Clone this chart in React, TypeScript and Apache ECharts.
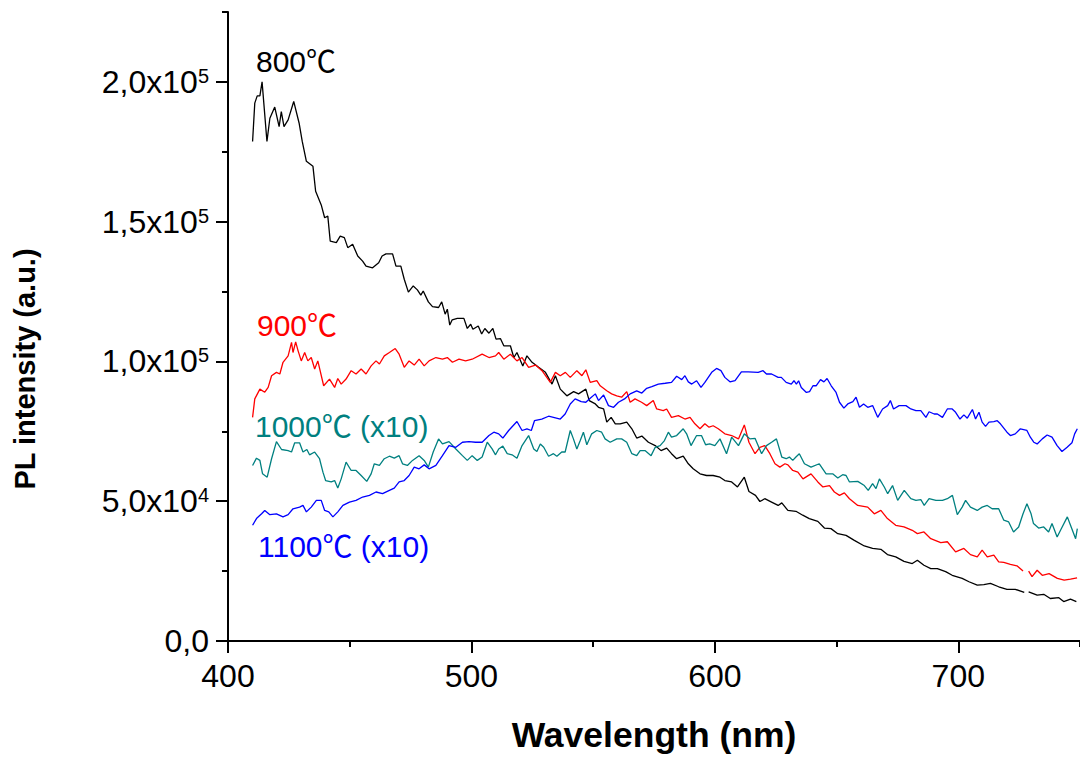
import React, { useEffect, useRef } from 'react';
import * as echarts from 'echarts';

// wavelength (nm), PL intensity (x10^3 a.u.); null = gap in the recorded trace
const s800: (number | null)[][] = [
  [410.1, 178.7], [411, 192.4], [412, 195], [413.1, 195], [414, 200], [416, 178.7], [417.2, 187], [419.2, 191], [421, 184], [421.9, 189.4],
  [423, 184], [424.7, 186.4], [427, 193], [429.2, 185.3], [430.5, 178.7], [432.2, 171.6], [434.9, 169.8], [436, 160.9], [438.3, 156], [439.7, 151.4],
  [441, 152], [442, 143], [444.5, 142.5], [446.1, 144.8], [447.8, 144.3], [449.2, 140.7], [451.2, 141.9], [453.3, 137.7], [455.3, 135.9], [456.7, 134.1],
  [459.4, 133.5], [461.9, 135.3], [463.3, 137.7], [464.9, 138.5], [467.6, 138.5], [469, 134.1], [471, 134.1], [472.4, 129.4], [474.1, 124.8], [476.1, 127],
  [477.8, 125.6], [479.2, 123.7], [480.2, 125.2], [482.3, 121.3], [484, 119.6], [486.5, 119.3], [487.8, 121.3], [489.2, 116.9], [490.1, 118.7], [491.1, 113],
  [492.1, 114.9], [494.2, 115.4], [496.9, 115.4], [498.3, 111.8], [499.7, 113.3], [500.6, 111.5], [502.8, 112.7], [504.2, 109.8], [505.5, 111.8], [507.2, 110.1],
  [508.8, 111.8], [510.1, 108], [511.9, 108.2], [513.3, 105.6], [516, 105.6], [517.4, 101.4], [518.7, 103.2], [521.1, 98.4], [522.8, 102], [524.9, 99.7],
  [527.6, 97.9], [530.4, 96.1], [533.1, 91.9], [534.5, 94.9], [536.5, 90.1], [539.2, 87.7], [542, 89.2], [544, 88.4], [547, 90.1], [548.4, 86],
  [550.9, 84.8], [552.2, 83.6], [554.3, 83], [555.6, 78.3], [557.4, 80], [559.1, 77.7], [561.1, 77.7], [563.8, 78.3], [565.9, 75.9], [567.9, 72.6],
  [570, 73.3], [572.7, 71.1], [575.5, 69.9], [577.9, 68.1], [580.2, 69], [582.2, 67], [584.3, 65.2], [587, 66.1], [589.1, 63.4], [591.1, 61.6],
  [593.9, 59.8], [596.6, 59.2], [599.3, 59.2], [602.1, 58.6], [604.1, 57.4], [606.9, 56.9], [609.3, 55.1], [612.1, 58.6], [614, 53.5], [616.7, 52.1],
  [618.5, 49.9], [620.5, 50.9], [623.3, 49.7], [626, 48.5], [627.5, 49.4], [630, 46.7], [633.3, 46.4], [636.1, 45], [638.8, 43.8], [642.3, 42.8],
  [645, 40.4], [647.7, 40.2], [650.5, 38.4], [653.9, 37.8], [657.3, 36], [661.4, 34], [664.8, 33.1], [668.2, 32.8], [670.9, 30.9], [674.3, 30.1],
  [677.7, 28.5], [681.1, 27.7], [683.2, 28.9], [685.9, 27.1], [688.7, 25.9], [691.4, 25.9], [694.8, 24.8], [697.5, 23.5], [701.6, 22.4], [704.4, 21.2],
  [707.8, 20], [710.5, 20.2], [713.2, 20.6], [716.6, 19.4], [720, 18.5], [723.4, 18.5], [727.1, 17.4], [728, null], [728.9, 17.6], [732.4, 16.4],
  [735.1, 16.7], [737.8, 15.2], [741.3, 15.5], [743.3, 14.1], [746.1, 15], [748.5, 14.1],
];

const s900: (number | null)[][] = [
  [410.1, 80], [411, 86.6], [413.1, 90.1], [415.1, 89], [416.5, 90.7], [417.9, 94.9], [419.9, 96.1], [421.3, 95.5], [422.6, 99.7], [424.7, 102],
  [426.1, 106.8], [426.7, 103.2], [427.8, 107], [428.8, 103.8], [430.1, 100.2], [431.5, 103.2], [432.8, 100.2], [434.2, 101.4], [435.6, 97.3], [436.9, 100.2],
  [439.3, 91.3], [441.7, 93.7], [443.8, 90.7], [445.1, 93.9], [446.5, 91.9], [448.5, 93.7], [450.6, 96.7], [452.6, 95.5], [454.7, 97.3], [456.7, 95.5],
  [458.8, 98.4], [460.8, 100.2], [462.2, 99.1], [464.2, 102], [466.3, 103.2], [468.7, 104.6], [470.3, 102.6], [472.4, 97.9], [474.4, 100.2], [476.5, 98.7],
  [478.5, 100.8], [480.6, 98.4], [482.6, 100.2], [485.4, 101.4], [488.1, 100.8], [490.1, 101.4], [492.2, 99.7], [494.9, 100.8], [497.6, 100.2], [500.3, 100.8],
  [504.4, 102.6], [507.2, 101.4], [509.9, 102], [511.2, 103.2], [513.3, 100.8], [516, 102.6], [518.7, 100.2], [520.8, 101.4], [523.5, 97.9], [526.3, 98.7],
  [529, 96.7], [532.4, 92.5], [534.5, 96.1], [536.5, 94.9], [538.6, 96.1], [540.6, 94.3], [543.3, 96.7], [545.4, 94.9], [547, 97], [548.8, 92.5],
  [551.5, 93.1], [552.9, 91.3], [555.6, 89.5], [557.6, 88.4], [559.7, 87.7], [561.7, 87.2], [563.8, 89.2], [565.2, 85.4], [567.2, 86.6], [569.9, 85.4],
  [572, 84.2], [574.7, 86], [576.1, 83], [578.8, 82.4], [580.2, 83], [582.2, 80], [585, 80.6], [587.7, 79.4], [589.8, 80], [591.8, 77.7],
  [593.9, 75.9], [595.9, 77.7], [597.6, 76.5], [599.3, 77], [601.4, 75.9], [604.1, 74.1], [606.9, 73.5], [609.7, 72.3], [612.1, 77.3], [614, 71.1],
  [616.5, 67], [618.5, 69.3], [620.5, 69.9], [622.6, 67], [624.7, 63.4], [626.7, 62.2], [628.8, 63.4], [630, 63], [632, 61], [634.1, 60.4],
  [636.2, 58], [639.5, 59.8], [642.3, 56.9], [644.4, 55.1], [647.1, 55.6], [649.1, 53.3], [651.2, 52.1], [653.2, 53], [655.3, 50.9], [658.7, 48.5],
  [662.8, 47.9], [665.5, 45.5], [668.2, 46.7], [670.9, 43.8], [674.3, 41.4], [677.7, 40.8], [681.1, 39.6], [683.2, 38.4], [685.9, 39], [688.7, 36.6],
  [692.8, 35.2], [695.5, 35.5], [698.9, 31.9], [702.3, 33.1], [705, 30.9], [707.8, 30.1], [709.8, 32.5], [711.9, 30.1], [714.6, 30.7], [716.6, 28.3],
  [718.7, 28.1], [721.4, 27.4], [724.1, 26.9], [726.6, 25], [727.8, null], [728.9, 25], [730.3, 23], [732.4, 25.3], [734.5, 23.5], [737.3, 24.1],
  [740.7, 22.4], [743.5, 21.8], [746.1, 22.1], [748.8, 22.6],
];

const s1000: (number | null)[][] = [
  [410.1, 62.8], [411.7, 65.4], [413.1, 64.6], [414.2, 59.8], [416.1, 58.6], [417.9, 65.2], [419.9, 71.3], [422, 68.5], [424.7, 68.1], [426.1, 67.6],
  [427.4, 70.9], [429.4, 70.9], [430.8, 67.6], [432.4, 68.5], [433.5, 66.6], [435.6, 67.6], [437.6, 65.2], [439, 60.4], [440.1, 57.4], [442.4, 56.9],
  [443.8, 57.4], [445.1, 54.7], [446.5, 58], [448.5, 64], [450.6, 61], [452.6, 61], [454.7, 59.2], [457, 57.1], [458.8, 59.8], [460.1, 63.4],
  [462.2, 62.8], [464.2, 65.2], [466.3, 66.1], [468.3, 65.4], [470.3, 66.3], [471.7, 63.4], [473.7, 62.8], [475.8, 64.6], [478.5, 66.3], [480.6, 64.6],
  [482.3, 62.2], [484.3, 67.6], [486.5, 72.3], [488.1, 70.5], [490.8, 71.3], [493.6, 68.7], [496.3, 66.3], [498.3, 64.6], [500.3, 66.3], [502.4, 64.6],
  [504.4, 65.8], [506.5, 71.1], [508.5, 68.7], [509.9, 66.6], [511.2, 68.7], [512.9, 69.7], [514.7, 67], [516.7, 66.6], [518.7, 65.4], [520.8, 69.9],
  [523.5, 73.5], [525.6, 68.7], [526.9, 67.8], [528.3, 70.5], [529.7, 69.3], [531.7, 66.1], [533.7, 67], [535.1, 66.1], [537.1, 67.6], [538.5, 67.6],
  [540.6, 75.3], [541.9, 72.3], [543.3, 68.7], [544.7, 71.7], [546, 74.7], [547.4, 70.2], [549.4, 74.1], [551.5, 75.3], [553.5, 74.7], [554.9, 72.3],
  [557, 71.1], [559.7, 72.3], [561.7, 72.3], [563.8, 71.1], [565.9, 67], [567.9, 66.3], [569.3, 68.1], [571.3, 68.1], [573.8, 66.3], [575.5, 69.3],
  [577.5, 69.9], [579.3, 71.7], [580.9, 74.7], [582.2, 72.9], [584.3, 73.5], [587, 75.9], [588.4, 74.1], [590.2, 69.9], [592.5, 73.5], [594.5, 73.5],
  [596.2, 70.2], [597.9, 70.5], [600, 69.9], [602.1, 72.3], [604.8, 67], [606.9, 72.9], [609.7, 69.9], [612.1, 74.1], [614.4, 72.3], [616.5, 72.5],
  [619.2, 67], [621.2, 69.9], [623.3, 71.1], [625.3, 72.3], [627.5, 65.8], [629.3, 65.2], [630.6, 65.8], [632, 64.6], [633.3, 65.8], [634.7, 67],
  [636.8, 63.4], [639.5, 62.2], [642.9, 63.4], [645.7, 59.8], [648.4, 59.8], [650.5, 58.3], [652.5, 59.5], [653.9, 59.2], [655.3, 56.9], [658.7, 57.1],
  [661.4, 55.6], [663, 53.9], [664.8, 56.3], [666.2, 54.5], [667.6, 58], [669.6, 55.1], [671, 52.7], [673, 55.6], [675.1, 50.3], [677.8, 53.9],
  [680.5, 50.9], [682.6, 50.3], [684.6, 50.6], [686, 48.5], [688, 50.9], [690.8, 50.3], [693.5, 50.3], [695.5, 50.9], [697.6, 52.1], [699.6, 45.2],
  [701.6, 47.9], [703, 50.3], [705, 47.9], [707.8, 46.7], [709.8, 47.9], [711.9, 48.5], [713.9, 47.3], [716.6, 47.3], [718.7, 43.2], [720.7, 42.6],
  [722.7, 39], [724.8, 40.8], [726.6, 45.5], [728.2, 49.1], [729.9, 45.5], [730.9, 42], [733, 40.4], [735.1, 40.8], [737.1, 39], [738.5, 42],
  [740.6, 37.2], [742, 39.6], [744.8, 44.4], [746.1, 41.4], [748.2, 36.6], [748.9, 40.2],
];

const s1100: (number | null)[][] = [
  [410.1, 41.4], [411.7, 43.8], [413.8, 45.5], [415.1, 46.7], [417.2, 45.2], [419.9, 45.5], [422.6, 44.4], [424.7, 45.2], [426.7, 47.3], [429.4, 47.9],
  [430.8, 48.5], [432.2, 46.2], [434.2, 47.9], [436.3, 50.3], [438.3, 50.3], [439.7, 46.7], [441.4, 46.2], [443.1, 44.4], [445.1, 46.2], [447.2, 48.5],
  [449.9, 49.7], [452.6, 50.3], [455.3, 51.5], [458.1, 52.1], [460.8, 53.3], [463.5, 52.7], [466.3, 53.9], [468.3, 54.7], [470.3, 56.9], [472.4, 57.4],
  [474.4, 59.2], [476.5, 62.2], [478.5, 61.6], [480.6, 63], [482.6, 61.6], [485.4, 62.8], [488.1, 66.3], [490.8, 69.9], [493.6, 69.3], [496.3, 71.1],
  [499, 71.3], [501.7, 71.1], [504.4, 71.1], [507.2, 73.5], [509.2, 74.7], [511.2, 74.1], [512.9, 72.6], [515.3, 75.3], [518.7, 78.5], [520.8, 75.3],
  [522.8, 75.9], [524.6, 75.3], [525.9, 78.8], [528.9, 79.4], [531.7, 80.4], [533.7, 80], [536.5, 79.4], [538.5, 81.2], [540.6, 84.8], [542.6, 86.6],
  [545.1, 85.6], [547, 85.4], [548.8, 86.8], [550.9, 88.4], [552.2, 86], [554.3, 88], [556.3, 84.2], [558.4, 83.6], [560.4, 85.4], [562.9, 86.6],
  [565.2, 88.4], [567.9, 89.5], [570, 88.7], [572, 90.4], [574.1, 91], [576.8, 91.9], [579.6, 92.2], [582.2, 92.5], [584.3, 94.7], [586.4, 93.5],
  [587.7, 94.9], [589.1, 92.7], [590.5, 91.9], [592.5, 93.1], [594.3, 90.7], [595.9, 92.5], [598.7, 96.1], [600.7, 97.5], [602.5, 96.7], [604.1, 94.3],
  [606.2, 92.7], [608.3, 93.1], [610.9, 96.3], [613.7, 96.3], [617.8, 96.1], [619.8, 96.7], [621.2, 95.5], [623.3, 95.5], [626, 94.3], [627.3, 94.3],
  [629.3, 92.5], [631.4, 91.9], [632.5, 93.1], [633.5, 91.9], [634.4, 93.1], [635.5, 90.7], [637.6, 88.9], [638.9, 89.2], [640.3, 91.3], [641.6, 91.3],
  [643.4, 93.5], [644.8, 92.7], [646.1, 93.9], [647.8, 91.3], [649.8, 88.9], [651.2, 85.4], [653, 83.3], [654.6, 84.8], [656.7, 85.6], [658, 87.2],
  [659.4, 83.6], [661.1, 84.8], [662.8, 83.6], [664.8, 84.2], [666.9, 80], [668.9, 83], [671, 84.2], [672.1, 86], [673.4, 83], [675.7, 84.2],
  [678.5, 84.2], [680.5, 83], [682.6, 82.4], [684.6, 82.4], [686.7, 80], [688, 82], [690.1, 81.2], [691.4, 81.2], [693.5, 80], [695.5, 83],
  [697.5, 83], [698.9, 81.8], [700.7, 79.4], [702.3, 80.9], [703.7, 79.7], [705.8, 82.8], [707.1, 79.4], [708.5, 81.8], [709.8, 78.3], [711.2, 76.8],
  [712.6, 78.3], [714.6, 78.5], [716, 78.8], [717.3, 77.7], [720, 74.7], [721.4, 73.5], [723.4, 74.1], [725.5, 75.9], [728.2, 75.3], [729.6, 72.9],
  [731, 71.1], [732.4, 70.5], [734.5, 72.3], [736.5, 73.7], [738.5, 72.9], [740.6, 69.9], [742.6, 67.8], [744.7, 69.3], [746.7, 70.9], [747.8, 74.1],
  [748.9, 75.9],
];

const seriesNames = ['800℃', '900℃', '1000℃ (x10)', '1100℃ (x10)'];
const seriesColors = ['#000000', '#ff0000', '#008080', '#0000ff'];

const yTicks = [0, 50000, 100000, 150000, 200000];
const yTickMantissa = ['0,0', '5,0', '1,0', '1,5', '2,0'];
const yTickExp = ['', '4', '5', '5', '5'];

const FONT = '"Liberation Sans", Arial, "DejaVu Sans", sans-serif';
const LABEL_FONT = '"Liberation Sans", Arial, "Noto Sans CJK SC", sans-serif';

const toPoints = (rows: (number | null)[][]) =>
  rows.map(([x, y]) => [x, y === null ? '-' : (y as number) * 1000]);

export default function App() {
  const ref = useRef<HTMLDivElement>(null);

  useEffect(() => {
    document.body.style.margin = '0';
    const chart = echarts.init(ref.current!, null, { renderer: 'svg' });
    const allData = [s800, s900, s1000, s1100];
    const labelPos = [
      [256, 61],
      [257, 325],
      [255, 426],
      [258, 546],
    ];
    const tickStyle = { color: '#000', width: 2 };
    chart.setOption({
      animation: false,
      backgroundColor: '#ffffff',
      grid: { left: 228, top: 12, width: 856, height: 631, containLabel: false },
      xAxis: [
        {
          type: 'value', min: 400, max: 750, interval: 100, position: 'bottom',
          axisLine: { show: true, onZero: false, lineStyle: { color: '#000', width: 2 } },
          axisTick: { show: true, length: 12, inside: false, lineStyle: tickStyle },
          axisLabel: { show: true, margin: 19, fontSize: 32, color: '#000', fontFamily: FONT, showMaxLabel: false },
          splitLine: { show: false },
          name: 'Wavelength (nm)', nameLocation: 'middle', nameGap: 76,
          nameTextStyle: { fontSize: 35.5, fontWeight: 'bold', fontFamily: FONT, color: '#000' },
        },
        {
          type: 'value', min: 400, max: 750, interval: 50, position: 'bottom',
          axisLine: { show: false, onZero: false },
          axisTick: { show: true, length: 6, lineStyle: tickStyle },
          axisLabel: { show: false },
          splitLine: { show: false },
        },
      ],
      yAxis: [
        {
          type: 'value', min: 0, max: 225000, interval: 50000, position: 'left',
          axisLine: { show: true, onZero: false, lineStyle: { color: '#000', width: 2 } },
          axisTick: { show: true, length: 12, lineStyle: tickStyle, customValues: yTicks },
          axisLabel: {
            show: true, margin: 19, fontSize: 32, lineHeight: 32, color: '#000', fontFamily: FONT,
            customValues: yTicks, showMaxLabel: true,
            formatter: (v: number) => {
              const i = yTicks.indexOf(v);
              if (i < 0) return '';
              return yTickExp[i] ? `${yTickMantissa[i]}x10{sup|${yTickExp[i]}}` : yTickMantissa[i];
            },
            rich: {
              sup: { fontSize: 20, lineHeight: 14, verticalAlign: 'top', color: '#000', fontFamily: FONT },
            },
          },
          splitLine: { show: false },
        },
        {
          type: 'value', min: 0, max: 225000, interval: 25000, position: 'left',
          axisLine: { show: false, onZero: false },
          axisTick: { show: true, length: 6, lineStyle: tickStyle },
          axisLabel: { show: false },
          splitLine: { show: false },
        },
      ],
      series: allData.map((d, i) => ({
        name: seriesNames[i],
        type: 'line',
        xAxisIndex: 0,
        yAxisIndex: 0,
        data: toPoints(d),
        showSymbol: false,
        symbol: 'none',
        connectNulls: false,
        clip: true,
        lineStyle: { color: seriesColors[i], width: 1.3 },
        itemStyle: { color: seriesColors[i] },
      })),
      graphic: [
        ...seriesNames.map((n, i) => ({
          type: 'text',
          x: labelPos[i][0],
          y: labelPos[i][1],
          style: {
            text: n, fill: seriesColors[i], fontSize: 30, fontFamily: LABEL_FONT,
            align: 'left', verticalAlign: 'middle',
          },
        })),
        {
          type: 'text',
          x: 25,
          y: 369,
          rotation: Math.PI / 2,
          style: {
            text: 'PL intensity (a.u.)', fill: '#000', fontSize: 29, fontWeight: 'bold', fontFamily: FONT,
            align: 'center', verticalAlign: 'middle',
          },
        },
      ],
    });
    return () => chart.dispose();
  }, []);

  return (
    <div
      ref={ref}
      style={{ position: 'absolute', left: 0, top: 0, width: 1080, height: 758, background: '#fff' }}
    />
  );
}
